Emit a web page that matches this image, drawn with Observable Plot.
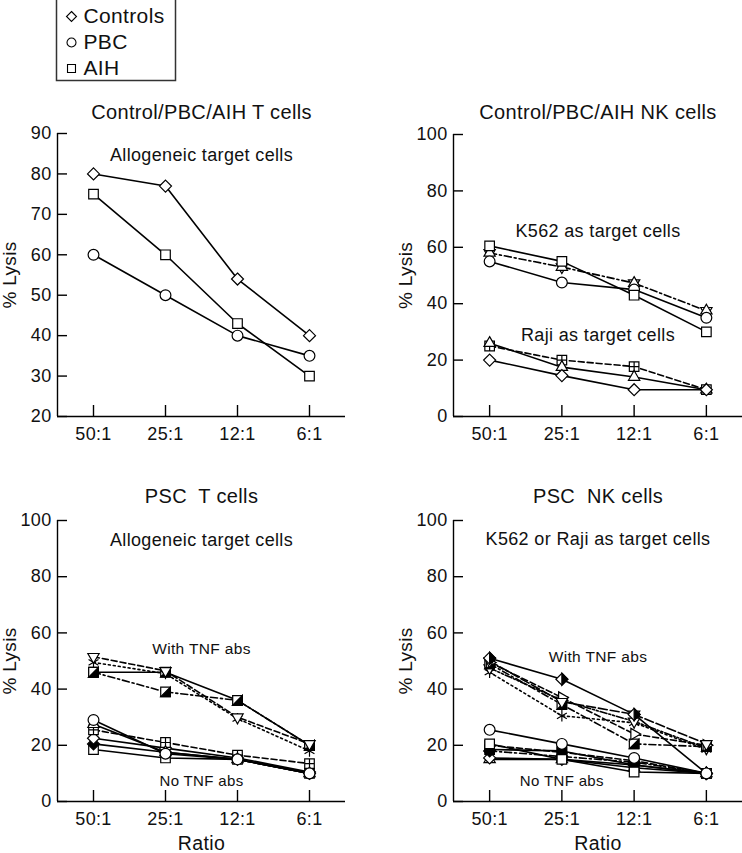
<!DOCTYPE html>
<html>
<head>
<meta charset="utf-8">
<script src="https://cdn.jsdelivr.net/npm/d3@7"></script>
<script src="https://cdn.jsdelivr.net/npm/@observablehq/plot@0.6"></script>
<style>
  body { margin: 0; background: #fff; }
  #chart { position: relative; width: 742px; height: 853px; overflow: hidden; background: #fff; }
  #chart svg text { white-space: pre; letter-spacing: 0.35px; }
</style>
</head>
<body>
<div id="chart"></div>
<script>
// ---------- data ----------
const ratios = ["50:1", "25:1", "12:1", "6:1"];
const legendNames = ["Controls", "PBC", "AIH"];
const yTicksT = [20, 30, 40, 50, 60, 70, 80, 90];
const yTicks100 = [0, 20, 40, 60, 80, 100];

// Control/PBC/AIH T cells (allogeneic targets)
const tControls = [80, 77, 54, 40];
const tPBC = [60, 50, 40, 35];
const tAIH = [75, 60, 43, 30];

// Control/PBC/AIH NK cells
const k562AIH = [60.5, 55, 43, 30];
const k562PBC = [55, 47.5, 45, 35];
const k562Controls = [58, 53, 47.3, 37.5];
const rajiA = [26, 17.5, 14, 9.5];
const rajiB = [25, 20, 17.7, 9.5];
const rajiControls = [20, 14.5, 9.5, 9.5];

// PSC T cells
const ptTnf1 = [51.5, 46.5, 30, 20.5];
const ptTnf2 = [49.5, 45.5, 29.5, 18];
const ptTnf3 = [46, 46, 36, 20];
const ptTnf4 = [46, 39, 36, 20];
const ptNo1 = [29, 17, 15, 10];
const ptNo2 = [27.5, 17.5, 15, 10];
const ptNo3 = [25.5, 21, 16.5, 13.5];
const ptNo4 = [22.5, 19, 15.5, 10.5];
const ptNo5 = [20.5, 17.5, 15, 10];
const ptNo6 = [18.5, 15.5, 15, 10];

// PSC NK cells
const pnTnf1 = [51, 43.5, 31, 10];
const pnTnf2 = [50, 35.5, 31, 20.5];
const pnTnf3 = [49.5, 37, 24, 20];
const pnTnf4 = [49, 34.5, 20.5, 19.5];
const pnTnf5 = [46, 30.5, 28, 18.5];
const pnTnf6 = [47.5, 36, 28.5, 19];
const pnNo1 = [25.5, 20.5, 15.5, 10];
const pnNo2 = [20.5, 15, 10.5, 10];
const pnNo3 = [18.5, 18, 13, 10];
const pnNo4 = [20, 17.5, 14.5, 10];
const pnNo5 = [18, 16, 14, 10];
const pnNo6 = [15.5, 15, 13, 10];
const pnNo7 = [15, 15, 12, 10];

// ---------- styles ----------
const FONT = "'Liberation Sans', Arial, Helvetica, sans-serif";
const DASH = { solid: null, dashed: "6,3", longdash: "9,3", dotted: "2,3", dashdot: "7,3,2,3", dashdotdot: "7,2,2,2,2,2" };
const SQ3 = Math.sqrt(3);
const SYM = {
  diamond: "diamond2", circle: "circle", square: "square", triangle: "triangle2", asterisk: "asterisk",
  down: { draw(c, size) { const s = Math.sqrt(size) * 0.6824, t = s / 2, u = s * SQ3 / 2; c.moveTo(0, s); c.lineTo(u, -t); c.lineTo(-u, -t); c.closePath(); } },
  right: { draw(c, size) { const s = Math.sqrt(size) * 0.6824, t = s / 2, u = s * SQ3 / 2; c.moveTo(s, 0); c.lineTo(-t, u); c.lineTo(-t, -u); c.closePath(); } },
  crossSq: { draw(c, size) { const h = Math.sqrt(size) / 2; c.moveTo(-h, -h); c.lineTo(h, -h); c.lineTo(h, h); c.lineTo(-h, h); c.closePath(); c.moveTo(0, -h); c.lineTo(0, h); c.moveTo(-h, 0); c.lineTo(h, 0); } },
  lrHalf: { draw(c, size) { const h = Math.sqrt(size) / 2; c.moveTo(h, -h); c.lineTo(h, h); c.lineTo(-h, h); c.closePath(); } },
  rHalfDia: { draw(c, size) { const r = Math.sqrt(size) * 0.62625; c.moveTo(0, -r); c.lineTo(r, 0); c.lineTo(0, r); c.closePath(); } }
};
const open = s => [[s, "white"]];
const filled = s => [[s, "black"]];
const halfSq = [["square", "white"], ["lrHalf", "black"]];
const halfDia = [["diamond", "white"], ["rHalfDia", "black"]];

const chart = document.getElementById("chart");

function panel(cfg) {
  const fw = cfg.width - cfg.ml - cfg.mr;
  const fh = cfg.height - cfg.mt - cfg.mb;
  const idx = ratios.map((_, i) => i);
  const marks = [
    Plot.ruleY([cfg.yDomain[0]], { stroke: "black", strokeWidth: 1.4 }),
    Plot.ruleX([-0.5], { stroke: "black", strokeWidth: 1.4 }),
    Plot.ruleY(cfg.yTicks, { insetRight: fw - 10, stroke: "black", strokeWidth: 1.4 }),
    Plot.ruleX(idx, { insetTop: fh - 11, stroke: "black", strokeWidth: 1.4 }),
    Plot.axisY({ ticks: cfg.yTicks, tickSize: 0, tickPadding: 6, label: null, fontSize: 18 }),
    Plot.axisX({ ticks: idx, tickFormat: i => ratios[i], tickSize: 0, tickPadding: 11, label: null, fontSize: 18 })
  ];
  for (const s of cfg.series) {
    const rows = s.values.map((v, i) => ({ i, v }));
    marks.push(Plot.line(rows, { x: "i", y: "v", stroke: "black", strokeWidth: 1.6, strokeDasharray: DASH[s.dash] || undefined }));
  }
  for (const s of cfg.series) {
    const rows = s.values.map((v, i) => ({ i, v }));
    for (const [sym, fill] of s.symbols) {
      marks.push(Plot.dot(rows, { x: "i", y: "v", symbol: SYM[sym], r: 5.4, fill, stroke: "black", strokeWidth: 1.2 }));
    }
  }
  for (const n of cfg.notes) {
    marks.push(Plot.text([n], { x: n.x, y: n.y, text: d => d.text, fontSize: n.size, textAnchor: "middle", lineAnchor: "middle" }));
  }
  marks.push(Plot.text([cfg.title], { frameAnchor: "top", dy: cfg.titleDy, text: d => d, fontSize: 20, textAnchor: "middle", lineAnchor: "middle" }));
  marks.push(Plot.text(["% Lysis"], { frameAnchor: "left", dx: -48, rotate: -90, text: d => d, fontSize: 19, textAnchor: "middle", lineAnchor: "middle" }));
  if (cfg.xLabel) {
    marks.push(Plot.text([cfg.xLabel], { frameAnchor: "bottom", dy: 42, text: d => d, fontSize: 19.5, textAnchor: "middle", lineAnchor: "middle" }));
  }
  const svg = Plot.plot({
    width: cfg.width, height: cfg.height,
    marginLeft: cfg.ml, marginRight: cfg.mr, marginTop: cfg.mt, marginBottom: cfg.mb,
    x: { domain: [-0.5, 3.5] },
    y: { domain: cfg.yDomain },
    style: { fontFamily: FONT, background: "transparent", overflow: "visible", color: "#111" },
    marks
  });
  svg.style.position = "absolute";
  svg.style.left = cfg.left + "px";
  svg.style.top = cfg.top + "px";
  chart.appendChild(svg);
}

// Top-left
panel({
  left: 0, top: 90, width: 371, height: 370, ml: 57, mr: 26, mt: 43, mb: 44,
  yDomain: [20, 90], yTicks: yTicksT, title: "Control/PBC/AIH T cells", titleDy: -21,
  series: [
    { values: tControls, dash: "solid", symbols: open("diamond") },
    { values: tPBC, dash: "solid", symbols: open("circle") },
    { values: tAIH, dash: "solid", symbols: open("square") }
  ],
  notes: [{ text: "Allogeneic target cells", x: 1.5, y: 84.7, size: 18 }]
});

// Top-right
panel({
  left: 371, top: 90, width: 371, height: 370, ml: 82, mr: 0, mt: 44, mb: 44,
  yDomain: [0, 100], yTicks: yTicks100, title: "Control/PBC/AIH NK cells", titleDy: -22,
  series: [
    { values: k562Controls, dash: "dashdot", symbols: [["down", "white"], ["triangle", "white"]] },
    { values: k562PBC, dash: "solid", symbols: open("circle") },
    { values: k562AIH, dash: "solid", symbols: open("square") },
    { values: rajiB, dash: "dashed", symbols: open("crossSq") },
    { values: rajiA, dash: "solid", symbols: open("triangle") },
    { values: rajiControls, dash: "solid", symbols: open("diamond") }
  ],
  notes: [
    { text: "K562 as target cells", x: 1.5, y: 65.6, size: 18 },
    { text: "Raji as target cells", x: 1.5, y: 28.7, size: 18 }
  ]
});

// Bottom-left
panel({
  left: 0, top: 460, width: 371, height: 393, ml: 57, mr: 26, mt: 60, mb: 52,
  yDomain: [0, 100], yTicks: yTicks100, title: "PSC  T cells", titleDy: -23.5, xLabel: "Ratio",
  series: [
    { values: ptTnf4, dash: "dashdot", symbols: halfSq },
    { values: ptTnf3, dash: "solid", symbols: halfSq },
    { values: ptTnf2, dash: "dotted", symbols: open("asterisk") },
    { values: ptTnf1, dash: "dashed", symbols: open("down") },
    { values: ptNo6, dash: "solid", symbols: open("square") },
    { values: ptNo5, dash: "solid", symbols: filled("diamond") },
    { values: ptNo4, dash: "solid", symbols: open("diamond") },
    { values: ptNo3, dash: "dashed", symbols: open("crossSq") },
    { values: ptNo2, dash: "solid", symbols: open("triangle") },
    { values: ptNo1, dash: "solid", symbols: open("circle") }
  ],
  notes: [
    { text: "Allogeneic target cells", x: 1.5, y: 92.9, size: 18 },
    { text: "With TNF abs", x: 1.5, y: 54.3, size: 15.5 },
    { text: "No TNF abs", x: 1.5, y: 7.3, size: 15 }
  ]
});

// Bottom-right
panel({
  left: 371, top: 460, width: 371, height: 393, ml: 82, mr: 0, mt: 60, mb: 52,
  yDomain: [0, 100], yTicks: yTicks100, title: "PSC  NK cells", titleDy: -23.5, xLabel: "Ratio",
  series: [
    { values: pnTnf5, dash: "dotted", symbols: open("asterisk") },
    { values: pnTnf6, dash: "dashdotdot", symbols: open("down") },
    { values: pnTnf4, dash: "dashdot", symbols: halfSq },
    { values: pnTnf3, dash: "dashed", symbols: open("right") },
    { values: pnTnf2, dash: "longdash", symbols: open("down") },
    { values: pnTnf1, dash: "solid", symbols: halfDia },
    { values: pnNo7, dash: "solid", symbols: open("triangle") },
    { values: pnNo6, dash: "solid", symbols: open("diamond") },
    { values: pnNo5, dash: "dashdot", symbols: filled("diamond") },
    { values: pnNo4, dash: "dashed", symbols: filled("square") },
    { values: pnNo3, dash: "solid", symbols: filled("square") },
    { values: pnNo2, dash: "solid", symbols: open("square") },
    { values: pnNo1, dash: "solid", symbols: open("circle") }
  ],
  notes: [
    { text: "K562 or Raji as target cells", x: 1.5, y: 93.2, size: 18 },
    { text: "With TNF abs", x: 1.5, y: 51.4, size: 15.5 },
    { text: "No TNF abs", x: 1.0, y: 7.3, size: 15 }
  ]
});

// Legend
const legendSymbols = ["diamond2", "circle", "square"];
const legend = Plot.plot({
  width: 119, height: 83, margin: 0,
  x: { domain: [0, 119], axis: null },
  y: { type: "point", domain: legendNames, range: [18, 71], padding: 0, axis: null },
  symbol: { domain: legendNames, range: legendSymbols },
  style: { fontFamily: FONT, background: "transparent", overflow: "visible", color: "#111" },
  marks: [
    Plot.frame({ stroke: "#333", strokeWidth: 1.5 }),
    Plot.dot(legendNames, { x: 15, y: d => d, symbol: d => d, r: 4.5, fill: "white", stroke: "black", strokeWidth: 1.1 }),
    Plot.text(legendNames, { x: 27, y: d => d, text: d => d, textAnchor: "start", lineAnchor: "middle", fontSize: 21 })
  ]
});
legend.style.position = "absolute";
legend.style.left = "55.5px";
legend.style.top = "-3px";
chart.appendChild(legend);
</script>
</body>
</html>
